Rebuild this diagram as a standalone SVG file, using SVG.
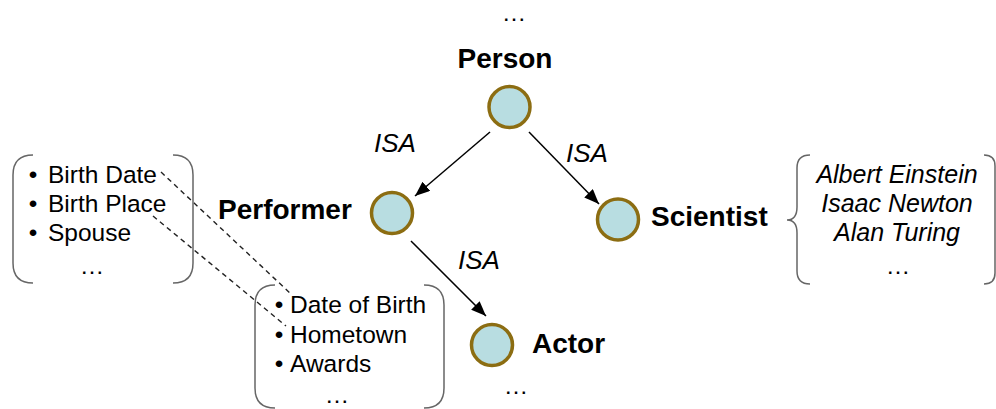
<svg xmlns="http://www.w3.org/2000/svg" width="996" height="409" viewBox="0 0 996 409">
<defs>
<style>
.node{fill:#B8DDE1;stroke:#8C6D12;stroke-width:3.5}
.lbl{font-family:"Liberation Sans",Arial,sans-serif;font-weight:bold;font-size:28px;fill:#000}
.isa{font-family:"Liberation Sans",Arial,sans-serif;font-style:italic;font-size:26px;fill:#000}
.txt{font-family:"Liberation Sans",Arial,sans-serif;font-size:24.5px;fill:#000}
.it{font-family:"Liberation Sans",Arial,sans-serif;font-style:italic;font-size:25px;fill:#000}
.brk{fill:none;stroke:#666;stroke-width:1.5}
.edge{stroke:#000;stroke-width:1.5;fill:none;marker-end:url(#arr)}
.dash{stroke:#222;stroke-width:1.4;stroke-dasharray:5 4;fill:none}
</style>
<marker id="arr" markerUnits="userSpaceOnUse" markerWidth="16" markerHeight="12" refX="15" refY="6" orient="auto">
<path d="M0,0 L15,6 L0,12 z" fill="#000"/>
</marker>
</defs>
<rect width="996" height="409" fill="#fff"/>

<text class="txt" x="514" y="21" text-anchor="middle">…</text>

<g id="connectors">
<line class="edge" x1="490" y1="132" x2="415" y2="196"/>
<line class="edge" x1="529" y1="132" x2="599" y2="204"/>
<line class="edge" x1="411" y1="241" x2="486" y2="316"/>
<text class="isa" x="374" y="152">ISA</text>
<text class="isa" x="566" y="162">ISA</text>
<text class="isa" x="458" y="269">ISA</text>
<line class="dash" x1="161" y1="172" x2="291" y2="294"/>
<line class="dash" x1="153" y1="216" x2="286" y2="326"/>
</g>

<g id="person">
<circle class="node" cx="509.5" cy="107" r="20.5"/>
<text class="lbl" x="505" y="68" text-anchor="middle">Person</text>
</g>
<g id="performer">
<circle class="node" cx="392" cy="213" r="20.5"/>
<text class="lbl" x="218" y="219">Performer</text>
</g>
<g id="scientist">
<circle class="node" cx="618" cy="219.5" r="20.5"/>
<text class="lbl" x="651" y="226">Scientist</text>
</g>
<g id="actor">
<circle class="node" cx="492" cy="345" r="20.5"/>
<text class="lbl" x="532" y="353">Actor</text>
<text class="txt" x="516" y="394" text-anchor="middle">…</text>
</g>

<g id="performer-attributes">
<path class="brk" d="M33,155 Q13,155 13,175 L13,263 Q13,283 33,283"/>
<path class="brk" d="M173,155 Q193,155 193,175 L193,263 Q193,283 173,283"/>
<text class="txt" x="33" y="183" text-anchor="middle">•</text>
<text class="txt" x="48" y="183">Birth Date</text>
<text class="txt" x="33" y="212" text-anchor="middle">•</text>
<text class="txt" x="48" y="212">Birth Place</text>
<text class="txt" x="33" y="241" text-anchor="middle">•</text>
<text class="txt" x="48" y="241">Spouse</text>
<text class="txt" x="92" y="274" text-anchor="middle">…</text>
</g>

<g id="actor-attributes">
<path class="brk" d="M275,285 Q255,285 255,305 L255,388 Q255,408 275,408"/>
<path class="brk" d="M424,285 Q444,285 444,305 L444,388 Q444,408 424,408"/>
<text class="txt" x="279" y="313" text-anchor="middle">•</text>
<text class="txt" x="290" y="313">Date of Birth</text>
<text class="txt" x="279" y="343" text-anchor="middle">•</text>
<text class="txt" x="290" y="343">Hometown</text>
<text class="txt" x="279" y="372" text-anchor="middle">•</text>
<text class="txt" x="290" y="372">Awards</text>
<text class="txt" x="337" y="403" text-anchor="middle">…</text>
</g>

<g id="scientist-instances">
<path class="brk" d="M810,155 Q797,155 797,168 L797,207 Q797,220 787,220 Q797,220 797,233 L797,271 Q797,284 810,284"/>
<path class="brk" d="M984,155 Q995,155 995,166 L995,273 Q995,284 984,284"/>
<text class="it" x="897" y="183" text-anchor="middle">Albert Einstein</text>
<text class="it" x="897" y="212" text-anchor="middle">Isaac Newton</text>
<text class="it" x="897" y="241" text-anchor="middle">Alan Turing</text>
<text class="txt" x="898" y="274" text-anchor="middle">…</text>
</g>
</svg>
